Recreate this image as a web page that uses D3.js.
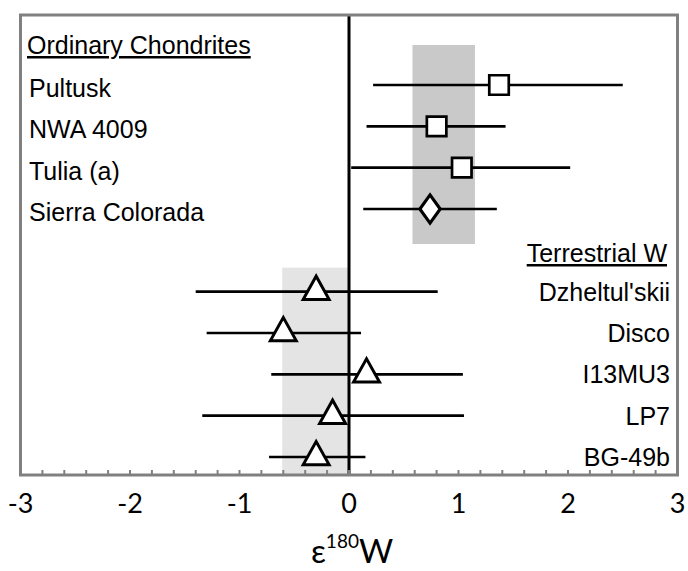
<!DOCTYPE html>
<html>
<head>
<meta charset="utf-8">
<script src="https://cdn.jsdelivr.net/npm/d3@7"></script>
<style>
  body { margin: 0; background: #fff; overflow: hidden; }
  svg { display: block; }
</style>
</head>
<body>
<div id="chart"></div>
<script>
// Ordinary chondrites (rows 0-3)
const ocNames = ['Pultusk', 'NWA 4009', 'Tulia (a)', 'Sierra Colorada'];
const ocValues = [1.37, 0.80, 1.03, 0.74];
const ocLow = [0.22, 0.16, 0.02, 0.13];
const ocHigh = [2.50, 1.43, 2.02, 1.35];
const ocShapes = ['square', 'square', 'square', 'diamond'];
const ocBand = [0.58, 1.15];

// Terrestrial W (rows 5-9)
const twNames = ["Dzheltul'skii", 'Disco', 'I13MU3', 'LP7', 'BG-49b'];
const twValues = [-0.30, -0.60, 0.16, -0.15, -0.30];
const twLow = [-1.40, -1.30, -0.71, -1.34, -0.73];
const twHigh = [0.81, 0.11, 1.04, 1.05, 0.15];
const twBand = [-0.61, 0];

const xTicks = [-3, -2, -1, 0, 1, 2, 3];

const width = 688, height = 571;
const frame = {left: 20.5, right: 677.5, top: 15, bottom: 475};

const svg = d3.select('#chart')
    .append('svg')
    .attr('width', width)
    .attr('height', height);

const x = d3.scaleLinear()
    .domain([-3, 3])
    .range([frame.left, frame.right]);

const y = d3.scaleLinear()
    .domain([0, 9])
    .range([85, 457]);

const oc = ocNames.map((name, i) => ({name, value: ocValues[i], low: ocLow[i], high: ocHigh[i], shape: ocShapes[i], row: i}));
const tw = twNames.map((name, i) => ({name, value: twValues[i], low: twLow[i], high: twHigh[i], shape: 'triangle', row: i + 5}));

// shaded bands
svg.append('rect')
    .attr('x', x(ocBand[0]))
    .attr('width', x(ocBand[1]) - x(ocBand[0]))
    .attr('y', y(0) - 40)
    .attr('height', y(3) + 35 - (y(0) - 40))
    .attr('fill', '#c9c9c9');

svg.append('rect')
    .attr('x', x(twBand[0]))
    .attr('width', x(twBand[1]) - x(twBand[0]))
    .attr('y', y(5) - 24)
    .attr('height', frame.bottom - (y(5) - 24))
    .attr('fill', '#e4e4e4');

// zero line
svg.append('line')
    .attr('x1', x(0)).attr('x2', x(0))
    .attr('y1', frame.top).attr('y2', frame.bottom)
    .attr('stroke', '#000')
    .attr('stroke-width', 3);

// error bars
const all = oc.concat(tw);
svg.selectAll('.err')
    .data(all)
    .enter()
    .append('line')
    .attr('class', 'err')
    .attr('x1', d => x(d.low))
    .attr('x2', d => x(d.high))
    .attr('y1', d => y(d.row))
    .attr('y2', d => y(d.row))
    .attr('stroke', '#000')
    .attr('stroke-width', 2.7);

// markers
const symbolType = {square: d3.symbolSquare, diamond: d3.symbolDiamond, triangle: d3.symbolTriangle};
const symbolSize = {square: 380, diamond: 230, triangle: 250};
svg.selectAll('.pt')
    .data(all)
    .enter()
    .append('path')
    .attr('class', 'pt')
    .attr('d', d => d3.symbol().type(symbolType[d.shape]).size(symbolSize[d.shape])())
    .attr('transform', d => `translate(${x(d.value)},${y(d.row)})${d.shape === 'diamond' ? ' scale(1.25,1)' : ''}${d.shape === 'triangle' ? ' scale(1.08,1.12)' : ''}`)
    .attr('fill', '#fff')
    .attr('stroke', '#000')
    .attr('stroke-width', 2.7);

// minor ticks along bottom (inside)
const minor = d3.range(-2.8, 3, 0.2);
svg.selectAll('.tick-mark')
    .data(minor)
    .enter()
    .append('line')
    .attr('class', 'tick-mark')
    .attr('x1', d => x(d)).attr('x2', d => x(d))
    .attr('y1', frame.bottom).attr('y2', frame.bottom - 5)
    .attr('stroke', '#808080')
    .attr('stroke-width', 2);

// frame
svg.append('rect')
    .attr('x', frame.left)
    .attr('y', frame.top)
    .attr('width', frame.right - frame.left)
    .attr('height', frame.bottom - frame.top)
    .attr('fill', 'none')
    .attr('stroke', '#808080')
    .attr('stroke-width', 3);

// tick labels
svg.selectAll('.xlab')
    .data(xTicks)
    .enter()
    .append('text')
    .attr('class', 'xlab')
    .attr('x', d => x(d))
    .attr('y', 513)
    .attr('text-anchor', 'middle')
    .style('font-family', 'Lato, sans-serif')
    .style('font-size', '27px')
    .text(d => d < 0 ? '-' + Math.abs(d) : d);

// axis title
const title = svg.append('text')
    .attr('x', 352)
    .attr('y', 563)
    .attr('text-anchor', 'middle')
    .style('font-family', 'Lato, sans-serif')
    .style('font-size', '33px');
title.append('tspan').text('ε');
title.append('tspan').attr('dy', -15).style('font-size', '19px').text('180');
title.append('tspan').attr('dy', 15).text('W');

// group headers and sample names
const labelFont = '"Liberation Sans", Arial, sans-serif';

svg.append('text')
    .attr('x', 27).attr('y', 54)
    .style('font-family', labelFont).style('font-size', '25px')
    .style('text-decoration', 'underline')
    .text('Ordinary Chondrites');

svg.selectAll('.oclab')
    .data(oc)
    .enter()
    .append('text')
    .attr('class', 'oclab')
    .attr('x', 29)
    .attr('y', d => y(d.row) + 12)
    .style('font-family', labelFont).style('font-size', '25px')
    .text(d => d.name);

svg.append('text')
    .attr('x', 667).attr('y', 262)
    .attr('text-anchor', 'end')
    .style('font-family', labelFont).style('font-size', '25px')
    .style('text-decoration', 'underline')
    .text('Terrestrial W');

svg.selectAll('.twlab')
    .data(tw)
    .enter()
    .append('text')
    .attr('class', 'twlab')
    .attr('x', 670)
    .attr('y', d => y(d.row) + 9)
    .attr('text-anchor', 'end')
    .style('font-family', labelFont).style('font-size', '25px')
    .text(d => d.name);
</script>
</body>
</html>
